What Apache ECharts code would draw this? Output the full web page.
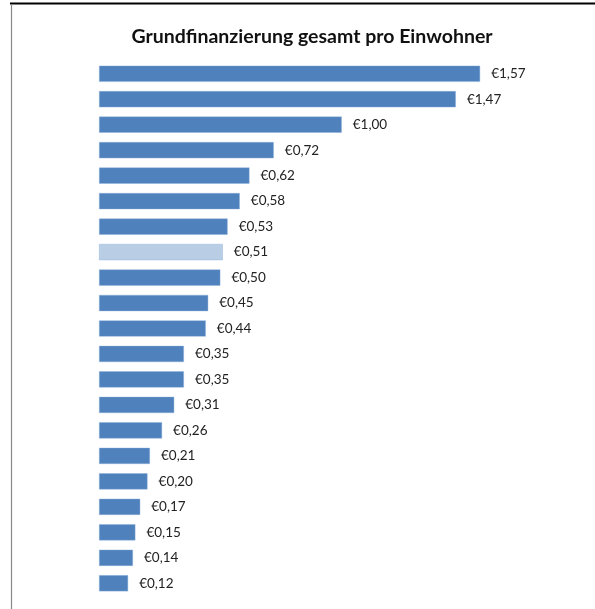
<!DOCTYPE html>
<html><head><meta charset="utf-8">
<script src="https://cdn.jsdelivr.net/npm/echarts@6/dist/echarts.min.js"></script>
<style>html,body{margin:0;padding:0;background:#fff}#c{width:595px;height:609px}</style>
</head><body><div id="c"></div>
<script>
const categories = ['1','2','3','4','5','6','7','8','9','10','11','12','13','14','15','16','17','18','19','20','21'];
const values = [1.57,1.47,1.00,0.72,0.62,0.58,0.53,0.51,0.50,0.45,0.44,0.35,0.35,0.31,0.26,0.21,0.20,0.17,0.15,0.14,0.12];
const highlightIndex = 7;
const chart = echarts.init(document.getElementById('c'), null, {renderer:'canvas'});
chart.setOption({
  animation:false,
  title:{text:'Grundfinanzierung gesamt pro Einwohner',left:307,textAlign:'center',top:22,
    textStyle:{fontFamily:'Lato',fontWeight:'bold',fontSize:19.5,color:'#111'}},
  grid:{left:99,right:59,top:61,bottom:13},
  xAxis:{type:'value',min:0,max:1.8,show:false},
  yAxis:{type:'category',data:categories,inverse:true,show:false},
  graphic:[
    {type:'line',shape:{x1:10,y1:3.5,x2:595,y2:3.5},style:{stroke:'#000',lineWidth:2}},
    {type:'line',shape:{x1:11.5,y1:4,x2:11.5,y2:609},style:{stroke:'#888',lineWidth:1.2}}
  ],
  series:[{type:'bar',barCategoryGap:'36%',
    data:values.map((v,i)=>({value:v,itemStyle:{color:i===highlightIndex?'#B9CDE5':'#4F81BD'}})),
    itemStyle:{borderColor:'rgba(140,175,220,0.7)',borderWidth:0.6},
    label:{show:true,position:'right',distance:11,fontFamily:'Lato',fontSize:13.5,color:'#222',
      formatter:p=>'€'+p.value.toFixed(2).replace('.',',')}
  }]
});
</script></body></html>
